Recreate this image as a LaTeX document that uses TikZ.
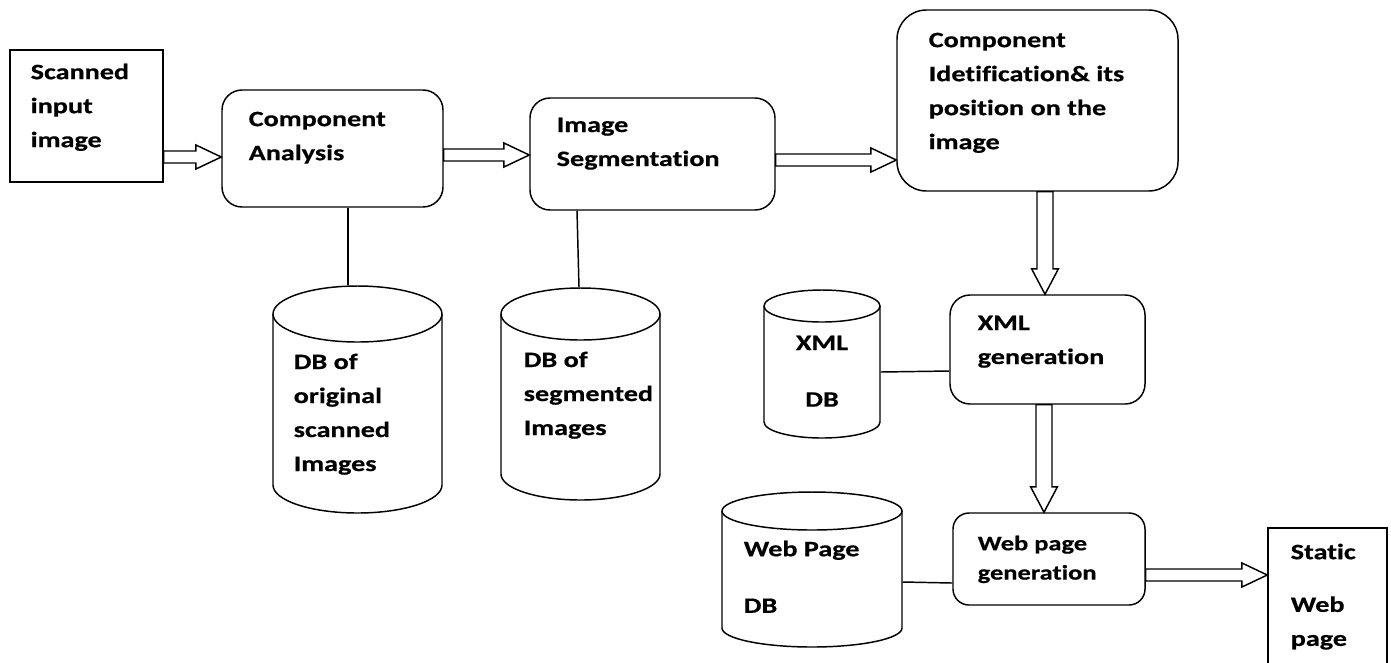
\documentclass[tikz,border=0pt]{standalone}
\usepackage{fontspec}
\newfontfamily\calfont{Carlito}[FakeStretch=1.28, Ligatures=NoCommon, BoldFeatures={FakeBold=0.6}]
\usetikzlibrary{fit,calc}

% database drum: name, left, top, right, bottom, depth of the lid
\newcommand{\dbshape}[6]{%
  \node[fit={(#2,#3) (#4,#5)}, inner sep=0pt] (#1) {};
  \draw (#2,{#3+#6}) -- (#2,{#5-#6})
    arc[start angle=180, end angle=0, x radius={(#4-#2)/2}, y radius=#6]
    -- (#4,{#3+#6});
  \draw ({(#2+#4)/2},{#3+#6}) ellipse [x radius={(#4-#2)/2}, y radius=#6];
}

\tikzset{every picture/.style={line width=1.1pt}}
\tikzset{
  procbox/.style={draw, rounded corners=15pt, inner sep=0pt},
  plainbox/.style={draw, inner sep=0pt},
  lbl/.style={anchor=north west, inner sep=0pt, align=left,
    font={\calfont\bfseries\fontsize{16.5pt}{25.5pt}\selectfont}},
  % hollow block arrows, left to right and top to bottom
  harrow/.style={to path={let \p1=(\tikztostart), \p2=(\tikztotarget) in
    (\x1,\y1+4.5pt) -- (\x2-19pt,\y1+4.5pt) -- (\x2-19pt,\y1+9pt) -- (\x2,\y1)
    -- (\x2-19pt,\y1-9pt) -- (\x2-19pt,\y1-4.5pt) -- (\x1,\y1-4.5pt) -- cycle}},
  varrow/.style={to path={let \p1=(\tikztostart), \p2=(\tikztotarget) in
    (\x1-6pt,\y1) -- (\x1-6pt,\y2-19pt) -- (\x1-10pt,\y2-19pt) -- (\x1,\y2)
    -- (\x1+10pt,\y2-19pt) -- (\x1+6pt,\y2-19pt) -- (\x1+6pt,\y1) -- cycle}},
}

\begin{document}
\begin{tikzpicture}[x=0.75pt,y=0.75pt,yscale=-1,xscale=1]
\useasboundingbox (0,0) rectangle (1391,662);

% process boxes
\node[plainbox, fit={(10,50) (163,182)}] (si) {};
\node[procbox, fit={(222,90) (443,207)}] (ca) {};
\node[procbox, fit={(530,98) (775,210)}] (seg) {};
\node[procbox, rounded corners=22pt, fit={(897,10) (1178,191)}] (cid) {};
\node[procbox, fit={(950,295) (1145,404)}] (xmlgen) {};
\node[procbox, rounded corners=12pt, fit={(953,513) (1145,605)}] (webgen) {};
\node[plainbox, fit={(1268,528) (1387,680)}] (web) {};

% databases
\dbshape{dborig}{273}{286}{442}{513}{28}
\dbshape{dbseg}{501}{288}{660}{500}{26}
\dbshape{xmldb}{764}{290}{880}{438}{16}
\dbshape{webdb}{722}{492}{902}{647}{19}

% texts
\node[lbl] (t-si) at (30,63) {Scanned\\input\\image};
\node[lbl] (t-ca) at (248,111) {Component\\Analysis};
\node[lbl] (t-seg) at (556,117) {Image\\Segmentation};
\node[lbl] (t-cid) at (928,32) {Component\\Idetification\& its\\position on the\\image};
\node[lbl] (t-xmlgen) at (977,315) {XML\\generation};
\node[lbl, font={\calfont\bfseries\fontsize{15.5pt}{22pt}\selectfont}] (t-webgen) at (977,535) {Web page\\generation};
\node[lbl] (t-web) at (1290,543) {Static\\[14pt]Web\\page};
\node[lbl] (t-dborig) at (293,353) {DB of\\original\\scanned\\Images};
\node[lbl] (t-dbseg) at (523,351) {DB of\\segmented\\Images};
\node[lbl, anchor=north, align=center] (t-xmldb) at (822,335) {XML\\[17pt]DB};
\node[lbl] (t-webdb) at (743,540) {Web Page\\[17pt]DB};

% links to the databases
\draw (ca.south -| 348,0) -- (dborig.north -| 348,0);
\draw (seg.south -| 577,0) -- (dbseg.north -| 579,0);
\draw (xmldb.east |- 0,372) -- (xmlgen.west |- 0,371);
\draw (webdb.east |- 0,582) -- (webgen.west |- 0,583);

% flow arrows
\draw (si.east |- 0,157) to[harrow] (ca.west |- 0,157);
\draw (ca.east |- 0,155) to[harrow] (seg.west |- 0,155);
\draw (seg.east |- 0,160) to[harrow] (cid.west |- 0,160);
\draw (cid.south -| 1045,0) to[varrow] (xmlgen.north -| 1045,0);
\draw (xmlgen.south -| 1044,0) to[varrow] (webgen.north -| 1044,0);
\draw (webgen.east |- 0,575) to[harrow] (web.west |- 0,575);

\end{tikzpicture}
\end{document}
